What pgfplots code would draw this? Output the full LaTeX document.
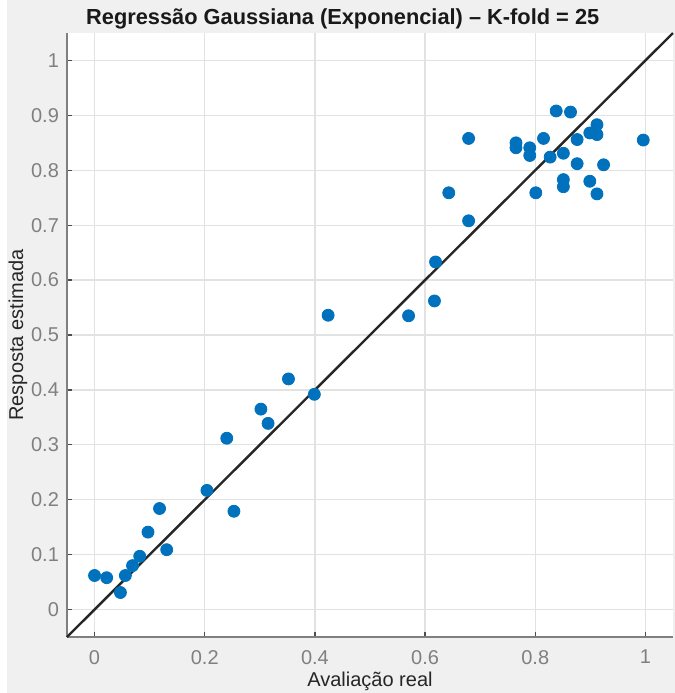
\documentclass[border=0pt]{standalone}
\usepackage{fontspec}
\setmainfont{Liberation Sans}
\usepackage{pgfplots}
\pgfplotsset{compat=1.18}
\definecolor{figbg}{HTML}{F0F0F0}
\definecolor{mblue}{HTML}{0072BD}
\definecolor{tickgray}{HTML}{808080}
\definecolor{gridgray}{HTML}{E2E2E2}

\begin{document}
\begin{tikzpicture}
% figure background (1px = 0.5pt)
\fill[white] (-33.5pt,-28pt) rectangle (304pt,318.5pt);
\fill[figbg] (-30pt,-28pt) rectangle (304pt,318.5pt);
\useasboundingbox (-33.5pt,-28pt) rectangle (304pt,318.5pt);
\begin{axis}[
    at={(0,0)}, anchor=south west,
    scale only axis,
    width=303pt, height=302pt,
    xmin=-0.05, xmax=1.05, ymin=-0.05, ymax=1.05,
    xtick={0,0.2,...,1}, ytick={0,0.1,...,1},
    axis background/.style={fill=white},
    axis x line*=bottom, axis y line*=left,
    axis line style={draw=tickgray, line width=1pt, -},
    tick align=inside, major tick length=2.5pt,
    tick style={draw=black!70, line width=0.6pt},
    grid=major,
    major grid style={draw=gridgray, line width=0.6pt},
    ticklabel style={font=\fontsize{10}{12}\selectfont, text=tickgray},
    /pgf/number format/assume math mode=true,
    x tick label style={yshift=-3pt},
    y tick label style={xshift=-0.5pt},
    xlabel={Avaliação real},
    ylabel={Resposta estimada},
    label style={font=\fontsize{10}{12}\selectfont, text=black!85},
    xlabel style={at={([yshift=-22pt]axis description cs:0.5,0)}, anchor=center},
    ylabel style={at={([xshift=-24.5pt]axis description cs:0,0.5)}, anchor=center},
    title={Regressão Gaussiana (Exponencial) – K-fold = 25},
    every axis title shift=0pt,
    title style={font=\bfseries\fontsize{10.9}{13}\selectfont, text=black!90,
        at={([yshift=6.8pt]axis description cs:0.455,1)}, anchor=center},
    clip=false,
]
\addplot[draw=black!85, line width=1.2pt] coordinates {(-0.05,-0.05) (1.05,1.05)};
\addplot[only marks, mark=*, mark size=3pt, mark options={draw=mblue, fill=mblue}] coordinates {
(0.000,0.062) (0.022,0.058) (0.047,0.031) (0.056,0.062) (0.069,0.080)
(0.082,0.097) (0.097,0.141) (0.118,0.184) (0.131,0.109) (0.204,0.217)
(0.240,0.312) (0.253,0.179) (0.302,0.365) (0.315,0.339) (0.352,0.420)
(0.399,0.392) (0.424,0.536) (0.570,0.535) (0.617,0.562) (0.619,0.633)
(0.643,0.759) (0.679,0.708) (0.679,0.858)
(0.838,0.908) (0.864,0.906) (0.912,0.883) (0.899,0.868) (0.912,0.865)
(0.996,0.855) (0.765,0.850) (0.765,0.841) (0.790,0.841) (0.790,0.827)
(0.815,0.858) (0.827,0.824) (0.851,0.831) (0.876,0.856) (0.876,0.812)
(0.924,0.810) (0.851,0.783) (0.851,0.770) (0.899,0.780) (0.801,0.759)
(0.912,0.757)
};
\end{axis}
\end{tikzpicture}
\end{document}
